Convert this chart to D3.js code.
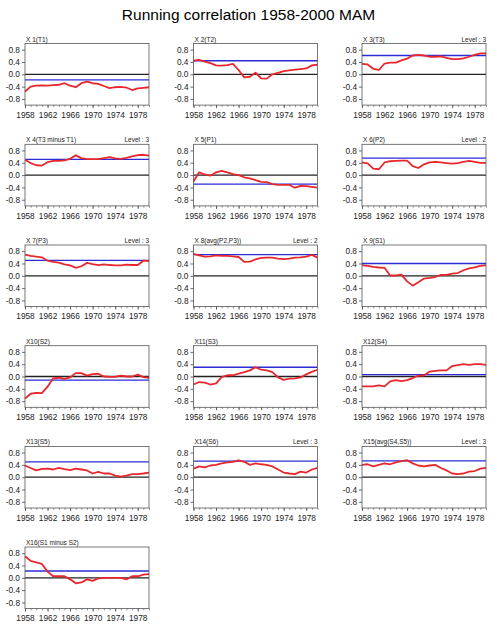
<!DOCTYPE html>
<html><head><meta charset="utf-8">
<script src="https://cdn.jsdelivr.net/npm/d3@7"></script>
<style>body{margin:0;background:#fff}svg{display:block}</style>
</head><body>
<script>
const chartTitle = "Running correlation 1958-2000 MAM";
const years = d3.range(1958, 1981);
const xTicks = [1958, 1962, 1966, 1970, 1974, 1978];
const yTicks = [0.8, 0.4, 0.0, -0.4, -0.8];
const panelTitles = ["X 1(T1)","X 2(T2)","X 3(T3)","X 4(T3 minus T1)","X 5(P1)","X 6(P2)","X 7(P3)","X 8(avg(P2,P3))","X 9(S1)","X10(S2)","X11(S3)","X12(S4)","X13(S5)","X14(S6)","X15(avg(S4,S5))","X16(S1 minus S2)"];
const levels = ["","", "Level : 3","Level : 3","","Level : 2","Level : 3","Level : 2","","","","","","Level : 3","Level : 3",""];
const thresholds = [-0.18, 0.44, 0.61, 0.51, -0.29, 0.55, 0.50, 0.69, 0.40, -0.12, 0.30, 0.06, 0.50, 0.52, 0.53, 0.22];
const s1 = [-0.56,-0.40,-0.37,-0.36,-0.37,-0.35,-0.34,-0.29,-0.37,-0.42,-0.29,-0.24,-0.29,-0.31,-0.38,-0.45,-0.42,-0.41,-0.43,-0.51,-0.46,-0.44,-0.42];
const s2 = [0.44,0.47,0.41,0.36,0.29,0.28,0.30,0.34,0.14,-0.10,-0.08,0.05,-0.13,-0.14,0.00,0.05,0.10,0.13,0.15,0.17,0.19,0.29,0.31];
const s3 = [0.34,0.32,0.18,0.14,0.35,0.38,0.38,0.45,0.51,0.61,0.63,0.61,0.57,0.57,0.58,0.53,0.49,0.49,0.52,0.57,0.63,0.68,0.68];
const s4 = [0.50,0.39,0.32,0.31,0.42,0.46,0.46,0.48,0.53,0.64,0.55,0.52,0.52,0.52,0.55,0.58,0.54,0.53,0.56,0.61,0.65,0.66,0.63];
const s5 = [-0.21,0.09,0.02,-0.02,0.09,0.14,0.09,0.03,0.00,-0.07,-0.11,-0.16,-0.22,-0.23,-0.29,-0.32,-0.32,-0.32,-0.41,-0.35,-0.36,-0.38,-0.41];
const s6 = [0.41,0.38,0.21,0.19,0.41,0.45,0.46,0.47,0.47,0.29,0.23,0.35,0.41,0.43,0.41,0.39,0.37,0.39,0.43,0.46,0.43,0.40,0.40];
const s7 = [0.69,0.65,0.62,0.60,0.49,0.45,0.43,0.37,0.34,0.26,0.31,0.42,0.38,0.35,0.37,0.35,0.34,0.34,0.36,0.35,0.35,0.49,0.48];
const s8 = [0.71,0.66,0.62,0.63,0.66,0.65,0.65,0.63,0.61,0.45,0.46,0.53,0.58,0.59,0.59,0.56,0.54,0.56,0.59,0.60,0.62,0.68,0.59];
const s9 = [0.35,0.32,0.29,0.27,0.26,0.01,0.01,0.04,-0.18,-0.32,-0.21,-0.09,-0.07,-0.04,0.03,0.03,0.07,0.09,0.18,0.24,0.27,0.32,0.35];
const s10 = [-0.72,-0.56,-0.53,-0.54,-0.33,-0.06,-0.04,-0.08,-0.03,0.11,0.11,0.03,0.08,0.09,0.00,-0.01,-0.01,0.03,0.00,0.00,0.06,-0.02,-0.04];
const s11 = [-0.26,-0.18,-0.20,-0.26,-0.22,-0.02,0.04,0.04,0.09,0.14,0.20,0.30,0.22,0.20,0.14,-0.03,-0.11,-0.07,-0.06,-0.03,0.07,0.15,0.22];
const s12 = [-0.32,-0.32,-0.32,-0.29,-0.32,-0.16,-0.12,-0.15,-0.12,-0.05,0.03,0.03,0.16,0.18,0.20,0.20,0.34,0.37,0.40,0.38,0.40,0.40,0.38];
const s13 = [0.38,0.30,0.22,0.27,0.28,0.25,0.30,0.26,0.23,0.28,0.25,0.22,0.12,0.17,0.12,0.12,0.05,0.02,0.05,0.10,0.10,0.12,0.15];
const s14 = [0.28,0.35,0.32,0.38,0.40,0.45,0.48,0.50,0.55,0.50,0.40,0.45,0.42,0.40,0.35,0.25,0.15,0.12,0.10,0.18,0.15,0.25,0.30];
const s15 = [0.40,0.42,0.35,0.40,0.45,0.42,0.48,0.52,0.55,0.45,0.38,0.35,0.38,0.40,0.30,0.22,0.12,0.10,0.12,0.18,0.20,0.28,0.30];
const s16 = [0.70,0.55,0.50,0.45,0.20,0.05,0.05,0.05,-0.05,-0.18,-0.15,-0.05,-0.10,-0.02,0.00,0.00,0.00,0.00,-0.05,0.05,0.05,0.10,0.12];
const series = [s1,s2,s3,s4,s5,s6,s7,s8,s9,s10,s11,s12,s13,s14,s15,s16];

const W = 497, H = 635;
const svg = d3.select("body").append("svg").attr("width", W).attr("height", H);
const font = "'Liberation Sans', Arial, Helvetica, sans-serif";

svg.append("text").attr("x", 248.5).attr("y", 20).attr("text-anchor", "middle")
  .attr("font-family", font).attr("font-size", 15.5).attr("fill", "#000").text(chartTitle);

const colLeft = [25, 193.5, 362];
const rowTop = [43.5, 144.3, 245, 345.7, 446.4, 547];
const pw = 124, ph = 61.6;
const x = d3.scaleLinear().domain([1958, 1980]).range([0, pw]);
const y = d3.scaleLinear().domain([-1, 1]).range([ph, 0]);
const fmt = v => (v < 0 ? "-" : "") + Math.abs(v).toFixed(1);
const line = d3.line().x((d, i) => x(years[i])).y(d => y(d)).curve(d3.curveLinear);

series.forEach((s, k) => {
  const g = svg.append("g").attr("transform", `translate(${colLeft[k % 3]},${rowTop[Math.floor(k / 3)]})`);
  const minor = g.append("g").attr("transform", `translate(0,${ph})`)
    .call(d3.axisBottom(x).tickValues(years).tickSize(1.8).tickFormat(""));
  minor.select(".domain").remove();
  minor.selectAll("line").attr("stroke", "#444").attr("stroke-width", 0.6);
  const xa = g.append("g").attr("transform", `translate(0,${ph})`)
    .call(d3.axisBottom(x).tickValues(xTicks).tickSize(3).tickPadding(4).tickFormat(d3.format("d")));
  xa.select(".domain").remove();
  xa.selectAll("line").attr("stroke", "#444").attr("stroke-width", 0.8);
  xa.selectAll("text").attr("font-family", font).attr("font-size", 8.3).attr("fill", "#222");
  const ya = g.append("g").call(d3.axisLeft(y).tickValues(yTicks).tickSize(3).tickPadding(2).tickFormat(fmt));
  ya.select(".domain").remove();
  ya.selectAll("line").attr("stroke", "#444").attr("stroke-width", 0.8);
  ya.selectAll("text").attr("font-family", font).attr("font-size", 8.3).attr("fill", "#222");
  g.append("line").attr("x1", 0).attr("x2", pw).attr("y1", y(0)).attr("y2", y(0))
    .attr("stroke", "#222").attr("stroke-width", 1.3);
  g.append("line").attr("x1", 0).attr("x2", pw).attr("y1", y(thresholds[k])).attr("y2", y(thresholds[k]))
    .attr("stroke", "#2b2bd8").attr("stroke-width", 1.3);
  g.append("path").datum(s).attr("d", line).attr("fill", "none")
    .attr("stroke", "#e8272d").attr("stroke-width", 1.8).attr("stroke-linejoin", "round");
  g.append("rect").attr("x", 0).attr("y", 0).attr("width", pw).attr("height", ph)
    .attr("fill", "none").attr("stroke", "#555").attr("stroke-width", 0.8);
  g.append("text").attr("x", 1).attr("y", -2).attr("font-family", font).attr("font-size", 6.5)
    .attr("fill", "#222").text(panelTitles[k]);
  if (levels[k]) g.append("text").attr("x", pw).attr("y", -2).attr("text-anchor", "end")
    .attr("font-family", font).attr("font-size", 6.5).attr("fill", "#222").text(levels[k]);
});
</script>
</body></html>
